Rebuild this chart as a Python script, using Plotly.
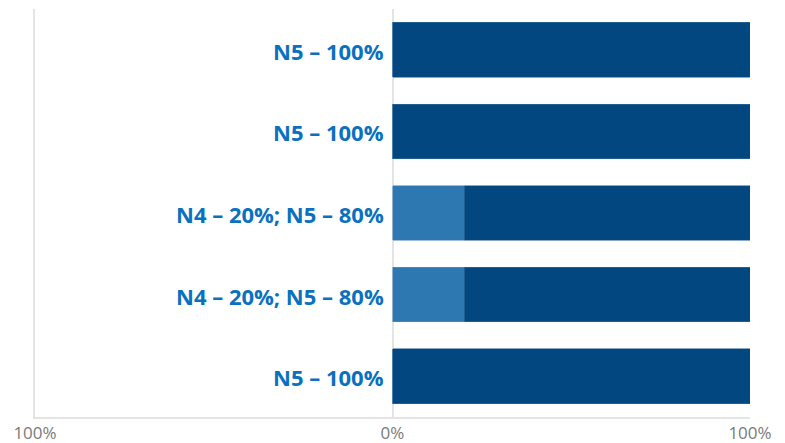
import plotly.graph_objects as go

# Rows listed top to bottom
rows = ["r1", "r2", "r3", "r4", "r5"]
n4_share = [0, 0, 20, 20, 0]
n5_share = [100, 100, 80, 80, 100]

tick_vals = [-100, 0, 100]
tick_text = ["100%", "0%", "100%"]

N4_COLOR = "#2E78B2"
N5_COLOR = "#02477F"
LABEL_COLOR = "#0A70C0"
GRID_COLOR = "#E4E4E4"


def row_label(a, b):
    parts = []
    if a > 0:
        parts.append(f"N4 – {a}%")
    if b > 0:
        parts.append(f"N5 – {b}%")
    return "; ".join(parts)


fig = go.Figure()
fig.add_trace(go.Bar(
    y=rows, x=n4_share, orientation="h", name="N4",
    marker=dict(color=N4_COLOR, line=dict(color="#5A8FBF", width=0.6)),
))
fig.add_trace(go.Bar(
    y=rows, x=n5_share, orientation="h", name="N5",
    marker=dict(color=N5_COLOR, line=dict(color="#3A6E9C", width=0.6)),
))

for r, a, b in zip(rows, n4_share, n5_share):
    fig.add_annotation(
        x=0, y=r, xref="x", yref="y", text=f"<b>{row_label(a, b)}</b>",
        showarrow=False, xanchor="right", yanchor="middle", xshift=-7, yshift=-1,
        font=dict(family="Open Sans", size=22, color=LABEL_COLOR),
    )

fig.update_layout(
    barmode="stack",
    bargap=0.33,
    showlegend=False,
    width=785, height=443,
    margin=dict(l=35, r=35, t=9, b=26),
    plot_bgcolor="white", paper_bgcolor="white",
    xaxis=dict(
        range=[-100, 100], tickvals=tick_vals, ticktext=tick_text,
        showgrid=True, gridcolor=GRID_COLOR, gridwidth=1.5,
        zeroline=False, showline=True, linecolor=GRID_COLOR, linewidth=1.5,
        ticks="", ticklabelstandoff=0, automargin=False,
        tickfont=dict(family="Open Sans", size=17, color="#7A7A7A"),
        fixedrange=True,
    ),
    yaxis=dict(
        categoryorder="array", categoryarray=rows, autorange="reversed",
        showticklabels=False, showgrid=False, zeroline=False,
        showline=True, linecolor=GRID_COLOR, linewidth=1.5, automargin=False,
        fixedrange=True,
    ),
)

fig.write_html("out.html")
